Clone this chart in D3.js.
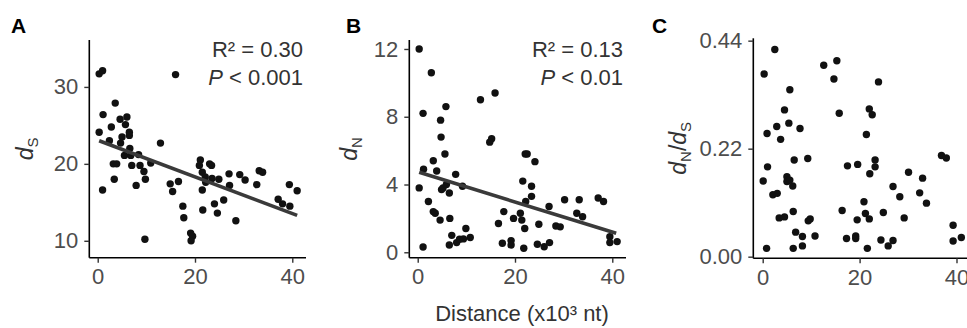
<!DOCTYPE html>
<html><head><meta charset="utf-8">
<script src="https://cdn.jsdelivr.net/npm/d3@7"></script>
<style>
html,body{margin:0;padding:0;background:#fff;}
text{font-family:"Liberation Sans",Arial,sans-serif;}
</style></head>
<body>
<script>
// ---- data ----
const xTicks = [0, 20, 40];
const aTicks = [10, 20, 30];
const bTicks = [0, 4, 8, 12];
const cTicks = [0, 0.22, 0.44];

const aX = [0.3,1.0,16.0,3.6,1.1,0.3,2.8,4.6,6.0,5.7,6.5,6.5,2.4,5.0,4.7,5.5,6.6,6.8,8.4,12.9,3.2,3.9,3.4,1.0,7.0,8.7,9.5,9.8,7.9,10.9,14.9,15.4,16.6,17.5,17.7,9.7,19.1,19.5,19.2,21.1,20.9,21.5,22.1,23.0,23.4,22.2,23.5,21.5,21.6,24.0,24.6,24.9,25.9,27.0,27.1,28.4,29.2,30.3,32.7,33.2,33.9,37.1,38.0,39.5,39.4,41.0];
const aY = [31.7,32.1,31.6,27.9,26.4,24.1,24.8,25.8,26.1,25.1,24.1,23.7,23.0,23.5,22.7,21.1,22.0,21.1,21.2,22.7,20.0,20.0,18.0,16.6,19.8,19.8,19.0,18.0,17.2,20.1,17.4,16.4,17.7,14.5,13.0,10.2,11.0,10.6,10.0,20.5,19.8,18.9,18.3,20.0,19.8,17.6,18.1,16.6,14.0,14.8,13.6,18.0,15.3,18.7,17.2,12.6,18.6,17.9,17.3,19.1,18.9,15.4,14.8,14.5,17.3,16.5];
const aFit = [[0.3, 23.0], [41.0, 13.3]];

const bX = [0.3,2.8,1.1,5.8,4.7,4.8,5.6,3.2,3.9,1.2,0.3,4.9,5.2,5.9,6.5,7.8,9.2,2.2,3.2,3.6,4.6,6.6,7.0,6.5,1.1,8.0,8.6,9.9,9.4,10.8,12.9,15.9,15.2,14.8,16.6,17.7,17.4,19.2,19.2,19.7,21.1,21.4,22.0,21.6,22.1,22.5,24.1,23.4,23.4,22.2,21.8,24.6,24.9,26.0,27.1,27.0,28.4,29.3,30.2,33.2,32.7,33.9,37.1,38.2,39.5,39.5,41.0];
const bY = [12.0,10.6,8.2,8.6,7.8,6.8,5.8,5.4,4.8,4.9,3.8,3.7,3.8,4.0,3.5,4.6,3.9,3.0,2.4,2.3,1.9,2.0,1.0,0.43,0.31,0.57,0.77,1.4,0.79,0.87,9.0,9.4,6.7,6.5,1.7,2.4,0.53,0.69,0.43,2.0,2.3,1.9,1.4,4.2,5.8,5.8,5.35,3.9,3.3,3.0,0.24,0.47,1.65,0.33,0.57,2.7,1.55,1.5,3.1,3.1,2.3,2.1,3.2,3.0,0.92,0.57,0.63];
const bFit = [[0.3, 4.72], [40.8, 1.12]];

const cX = [0.3,2.5,0.9,1.0,0.1,0.8,2.9,3.7,4.5,5.4,5.6,7.7,2.1,3.0,3.4,4.5,5.0,5.0,5.6,6.2,6.5,9.3,6.3,6.8,6.3,8.2,8.2,9.4,9.8,10.8,12.6,15.3,14.7,15.8,16.4,17.5,19.6,17.3,19.2,19.2,19.5,20.9,21.2,22.0,21.6,21.4,22.0,22.6,23.9,23.2,23.2,22.1,24.4,24.9,25.9,26.9,26.9,28.3,29.2,30.1,32.4,33.0,33.8,36.9,37.9,39.3,39.3,41.0];
const cY = [0.372,0.422,0.251,0.183,0.154,0.017,0.265,0.239,0.299,0.272,0.340,0.261,0.126,0.129,0.079,0.081,0.163,0.153,0.156,0.144,0.197,0.200,0.092,0.050,0.017,0.041,0.022,0.073,0.077,0.042,0.390,0.399,0.362,0.292,0.094,0.185,0.188,0.037,0.042,0.037,0.075,0.112,0.088,0.077,0.017,0.249,0.301,0.289,0.356,0.197,0.183,0.169,0.034,0.090,0.022,0.033,0.143,0.122,0.079,0.172,0.130,0.160,0.109,0.206,0.201,0.064,0.032,0.039];

const panelLetters = ["A", "B", "C"];
const statsA = ["R² = 0.30", "< 0.001"];
const statsB = ["R² = 0.13", "< 0.01"];
const xTitle = "Distance (x10³ nt)";

// ---- drawing ----
const W = 967, H = 328;
const svg = d3.select("body").append("svg").attr("width", W).attr("height", H);
svg.append("rect").attr("width", W).attr("height", H).attr("fill", "#fff");

const FS = 22, tickCol = "#4d4d4d", titleCol = "#333";

function panel(cfg) {
  const g = svg.append("g");
  const x = d3.scaleLinear().domain(cfg.xd).range([cfg.left, cfg.right]);
  const y = d3.scaleLinear().domain(cfg.yd).range([cfg.bottom, cfg.top]);

  const xa = g.append("g").attr("transform", `translate(0,${cfg.bottom})`)
    .call(d3.axisBottom(x).tickValues(xTicks).tickSize(5).tickPadding(3).tickFormat(d3.format("d")));
  const ya = g.append("g").attr("transform", `translate(${cfg.left},0)`)
    .call(d3.axisLeft(y).tickValues(cfg.yTicks).tickSize(5).tickPadding(6).tickFormat(cfg.yFmt));
  [xa, ya].forEach(a => {
    a.select(".domain").attr("stroke", "#000").attr("stroke-width", 1.6);
    a.selectAll(".tick line").attr("stroke", "#333").attr("stroke-width", 1.4);
    a.selectAll(".tick text").attr("fill", tickCol).attr("font-size", FS)
      .attr("font-family", '"Liberation Sans",Arial,sans-serif');
  });
  xa.selectAll(".tick text").attr("dy", "0.85em");
  xa.select(".domain").attr("d", `M${cfg.left},0H${cfg.right}`);
  ya.select(".domain").attr("d", `M0,${cfg.bottom}V${cfg.top}`);

  g.append("g").selectAll("circle").data(cfg.xs.map((v, i) => [v, cfg.ys[i]]))
    .join("circle").attr("cx", d => x(d[0])).attr("cy", d => y(d[1]))
    .attr("r", 3.7).attr("fill", "#111");

  if (cfg.fit) {
    g.append("path").datum(cfg.fit)
      .attr("d", d3.line().x(d => x(d[0])).y(d => y(d[1])))
      .attr("stroke", "#3a3a3a").attr("stroke-width", 3.6).attr("fill", "none");
  }
  if (cfg.stats) {
    const sx = cfg.right - 3;
    g.append("text").attr("x", sx).attr("y", 56.5).attr("text-anchor", "end")
      .attr("font-size", FS).attr("fill", titleCol).text(cfg.stats[0]);
    const t = g.append("text").attr("x", sx).attr("y", 84.5).attr("text-anchor", "end")
      .attr("font-size", FS).attr("fill", titleCol);
    t.append("tspan").attr("font-style", "italic").text("P");
    t.append("tspan").text(" " + cfg.stats[1]);
  }
  g.append("text").attr("x", cfg.letterX).attr("y", 33).attr("font-size", 21)
    .attr("font-weight", "bold").attr("fill", "#000").text(cfg.letter);

  const cy = (cfg.top + cfg.bottom) / 2;
  const yt = g.append("text").attr("transform", `translate(${cfg.titleX},${cy}) rotate(-90)`)
    .attr("text-anchor", "middle").attr("font-size", 23).attr("fill", titleCol);
  cfg.yTitle.forEach(p => {
    const s = yt.append("tspan").text(p.t);
    if (p.i) s.attr("font-style", "italic");
    if (p.sub) s.attr("font-size", 15).attr("dy", p.dy);
    else if (p.dy) s.attr("dy", p.dy);
  });
}

panel({
  left: 89.3, right: 306, top: 40, bottom: 257.7,
  xd: [-1.73, 42.82], yd: [7.8, 36.1],
  yTicks: aTicks, yFmt: d3.format("d"),
  xs: aX, ys: aY, fit: aFit, stats: statsA,
  letter: panelLetters[0], letterX: 11,
  titleX: 33,
  yTitle: [{t: "d", i: true}, {t: "S", sub: true, dy: 5}]
});
panel({
  left: 409.3, right: 626, top: 40, bottom: 257.7,
  xd: [-1.73, 42.82], yd: [-0.32, 12.53],
  yTicks: bTicks, yFmt: d3.format("d"),
  xs: bX, ys: bY, fit: bFit, stats: statsB,
  letter: panelLetters[1], letterX: 346,
  titleX: 357,
  yTitle: [{t: "d", i: true}, {t: "N", sub: true, dy: 5}]
});
panel({
  left: 753.3, right: 972, top: 38.3, bottom: 258.3,
  xd: [-1.94, 43.2], yd: [-0.0033, 0.4448],
  yTicks: cTicks, yFmt: d3.format(".2f"),
  xs: cX, ys: cY, fit: null, stats: null,
  letter: panelLetters[2], letterX: 652,
  titleX: 686,
  yTitle: [{t: "d", i: true}, {t: "N", sub: true, dy: 5}, {t: "/", dy: -5}, {t: "d", i: true}, {t: "S", sub: true, dy: 5}]
});

svg.append("text").attr("x", 522).attr("y", 321).attr("text-anchor", "middle")
  .attr("font-size", FS).attr("fill", titleCol).text(xTitle);
</script>
</body></html>
